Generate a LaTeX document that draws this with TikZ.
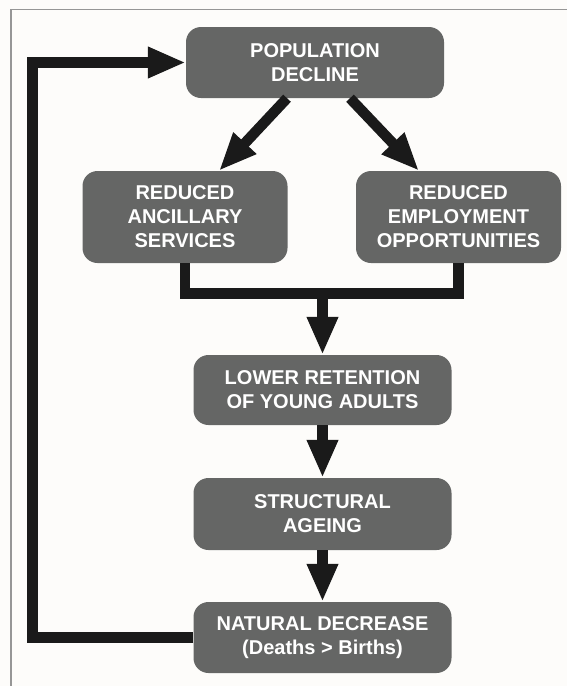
\documentclass[tikz,border=0pt]{standalone}
\usepackage{fontspec}
\setmainfont{Liberation Sans}
\usetikzlibrary{arrows.meta}
\definecolor{bg}{RGB}{253,252,250}
\definecolor{boxgray}{RGB}{101,102,101}
\definecolor{ink}{RGB}{26,26,26}
\definecolor{framegray}{RGB}{150,150,150}
\begin{document}
\begin{tikzpicture}[x=1pt,y=1pt,
  box/.style={fill=boxgray, rounded corners=15pt, minimum width=258pt, minimum height=71pt,
    text=white, font=\bfseries\fontsize{20}{24}\selectfont, align=center, inner sep=0pt},
  sidebox/.style={box, minimum width=205pt, minimum height=92pt},
  conn/.style={draw=ink, line width=10.5pt, line join=miter},
  arr/.style={conn, -{Triangle[length=38pt,width=29pt]}}]
\fill[bg] (0,0) rectangle (567,-686);
\useasboundingbox (0,0) rectangle (567,-686);
\draw[framegray, line width=1.5pt] (11,-686) -- (11,-9.5) -- (567,-9.5);

\node[box] (pop) at (315,-62.5) {POPULATION\\DECLINE};
\node[sidebox] (anc) at (185,-217) {REDUCED\\ANCILLARY\\SERVICES};
\node[sidebox] (emp) at (458.5,-217) {REDUCED\\EMPLOYMENT\\OPPORTUNITIES};
\node[box, minimum height=70pt] (ret) at (322.5,-390) {LOWER RETENTION\\OF YOUNG ADULTS};
\node[box, minimum height=72pt] (str) at (322.5,-514) {STRUCTURAL\\AGEING};
\node[box] (nat) at (322.5,-637.5) {NATURAL DECREASE\\(Deaths > Births)};

\coordinate (j) at (322.5,-293.5);
\coordinate (fb) at (32.5,-637.5);

\draw[arr] ([xshift=-28pt]pop.south) -- ([xshift=34pt]anc.north);
\draw[arr] ([xshift=35pt]pop.south) -- ([xshift=-39.5pt]emp.north);
\draw[conn] (anc.south) |- (j) -| (emp.south);
\draw[arr] ([yshift=5.25pt]j) -- (ret.north);
\draw[arr] (ret.south) -- (str.north);
\draw[arr] (str.south) -- (nat.north);
\draw[arr] (nat.west) -- (fb) |- (pop.west);
\end{tikzpicture}
\end{document}
